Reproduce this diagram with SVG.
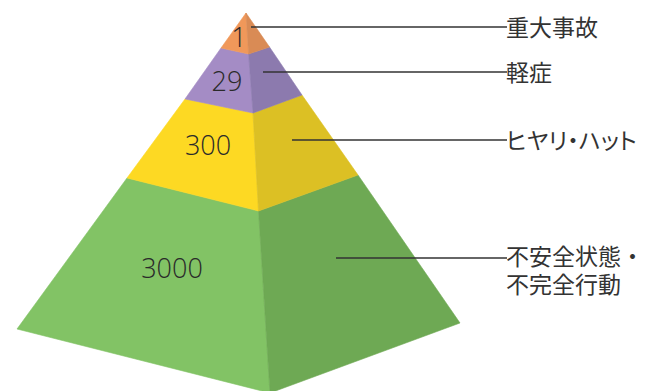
<svg xmlns="http://www.w3.org/2000/svg" width="663" height="391" viewBox="0 0 663 391">
<style>
.num{font-family:"Open Sans","Liberation Sans",sans-serif;font-size:27px;font-weight:300;fill:#2a2a2a;text-anchor:middle}
.lbl{font-family:"Noto Sans CJK JP","Noto Sans",sans-serif;font-size:23px;fill:#333}
.kana{font-feature-settings:"palt"}
.con{stroke:#333;stroke-width:1.5;fill:none}
.f{stroke-width:0.6;stroke-linejoin:round}
</style>
<rect width="663" height="391" fill="#fff"/>
<g id="tier-3000">
<polygon class="f" points="127,178 17,329 270,393 258.5,211" fill="#82C365" stroke="#82C365"/>
<polygon class="f" points="258.5,211 270,393 460,323 358,175" fill="#6EA954" stroke="#6EA954"/>
<text class="num" x="172" y="278">3000</text>
<text class="lbl" x="506" y="265">不安全状態・<tspan x="506" dy="28">不完全行動</tspan></text>
</g>
<g id="tier-300">
<polygon class="f" points="185,99 127,178 258.5,211 253,113" fill="#FDD923" stroke="#FDD923"/>
<polygon class="f" points="253,113 258.5,211 358,175 302,95" fill="#DCC024" stroke="#DCC024"/>
<text class="num" x="208" y="155">300</text>
<text class="lbl kana" x="506" y="148.5">ヒヤリ・ハット</text>
</g>
<g id="tier-29">
<polygon class="f" points="221,48 185,99 253,113 248.6,54" fill="#A48CC5" stroke="#A48CC5"/>
<polygon class="f" points="248.6,54 253,113 302,95 269.5,47" fill="#8C7AAE" stroke="#8C7AAE"/>
<text class="num" x="227" y="91">29</text>
<text class="lbl" x="506" y="80.5">軽症</text>
</g>
<g id="tier-1">
<polygon class="f" points="246,13 221,48 248.6,54" fill="#F0985A" stroke="#F0985A"/>
<polygon class="f" points="246,13 248.6,54 269.5,47" fill="#D98B55" stroke="#D98B55"/>
<text class="num" x="239" y="47">1</text>
<text class="lbl" x="506" y="35.5">重大事故</text>
</g>
<g id="connectors">
<line class="con" x1="251" y1="27" x2="507" y2="27"/>
<line class="con" x1="263" y1="72" x2="507" y2="72"/>
<line class="con" x1="292" y1="140" x2="507" y2="140"/>
<line class="con" x1="336" y1="258" x2="507" y2="258"/>
</g>
</svg>
